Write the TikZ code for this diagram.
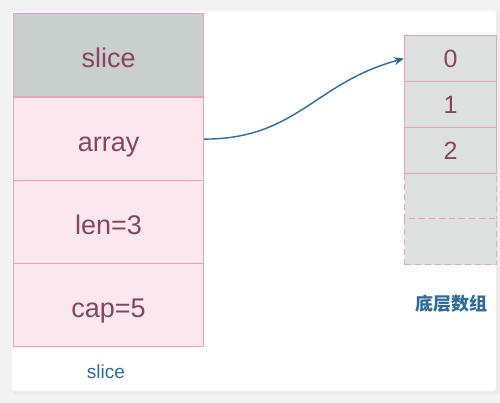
\documentclass[tikz,border=0pt]{standalone}
\usepackage{fontspec}
\setmainfont{Liberation Sans}
\newfontfamily\cjk{Noto Sans CJK SC}
\usetikzlibrary{arrows.meta,shadows}
\definecolor{pagebg}{HTML}{F2F2F2}
\definecolor{headfill}{HTML}{C9CFCD}
\definecolor{pinkfill}{HTML}{FAE8EE}
\definecolor{pinkline}{HTML}{E8A2BA}
\definecolor{txtred}{HTML}{8A4360}
\definecolor{cellfill}{HTML}{DCE1E0}
\definecolor{lblue}{HTML}{2E6B9B}
\tikzset{
  field/.style={draw=pinkline, line width=1.2pt, fill=pinkfill, minimum width=190pt, minimum height=83pt, inner sep=0pt, text height=24pt, text depth=0pt, font=\fontsize{27}{30}\selectfont, text=txtred, anchor=north west},
  headfield/.style={field, fill=headfill},
  cell/.style={draw=pinkline, line width=1.2pt, fill=cellfill, minimum width=92pt, minimum height=46pt, inner sep=0pt, font=\fontsize{25}{28}\selectfont, text=txtred, anchor=north west},
  emptycell/.style={cell, dashed, dash pattern=on 6pt off 4pt},
  caption/.style={text=lblue, font=\fontsize{19}{22}\selectfont},
  link/.style={draw=lblue, line width=1.4pt, -{Stealth[length=10pt,width=8pt]}}
}
\begin{document}
\begin{tikzpicture}[x=1pt,y=-1pt]
\useasboundingbox (0,0) rectangle (500,403);
\fill[pagebg] (0,0) rectangle (500,403);
\fill[black!8, rounded corners=3pt] (13,12) rectangle (499,394);
\fill[white, rounded corners=3pt] (12,11) rectangle (496,391);
\node[headfield] (slice) at (13,13) {slice};
\node[field] (array) at (13,97) {array};
\node[field] (len) at (13,180) {len=3};
\node[field] (cap) at (13,263) {cap=5};
\node[caption] (slicelbl) at (106,372) {slice};
\node[cell] (c0) at (404,35) {0};
\node[cell] (c1) at (404,81) {1};
\node[cell] (c2) at (404,127) {2};
\node[emptycell] (c3) at (404,173) {};
\node[emptycell] (c4) at (404,218) {};
\node[caption, font=\cjk\fontsize{18}{20}\selectfont\bfseries] (arrlbl) at (451,304) {底层数组};
\draw[link] (array.east) to[out=0, in=195, looseness=1.1] (c0.west);
\end{tikzpicture}
\end{document}
